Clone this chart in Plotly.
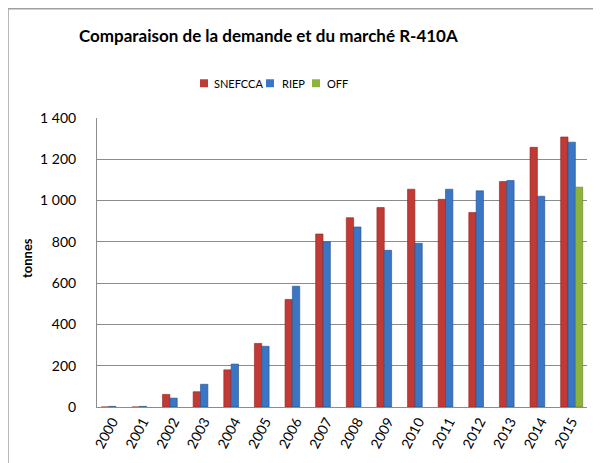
import plotly.graph_objects as go

years = [str(y) for y in range(2000, 2016)]
snefcca = [0, 0, 61, 74, 180, 308, 521, 838, 917, 966, 1055, 1006, 942, 1092, 1258, 1308]
riep = [3, 3, 43, 110, 208, 294, 585, 800, 872, 759, 793, 1055, 1047, 1097, 1021, 1283]
off = [None] * 15 + [1065]
ytick_vals = [0, 200, 400, 600, 800, 1000, 1200, 1400]
ytick_text = ["0", "200", "400", "600", "800", "1 000", "1 200", "1 400"]
names = ["SNEFCCA", "RIEP", "OFF"]
colors = ["#C23A36", "#3A76C4", "#8DB33A"]
lines = ["#8E2420", "#24508C", "#5E7E22"]

# the page body has an 8px margin: figure coordinates = page coordinates - 8
O = 8
W, H = 601 - O, 463 - O
L, R, T, B = 97 - O, 14, 118 - O, 62 - O
pw, ph = W - L - R, H - T - B

def px(x):
    return (x - O - L) / pw

def py(y):
    return (H - B - (y - O)) / ph

fig = go.Figure()
for name, vals, col, lc in zip(names, [snefcca, riep, off], colors, lines):
    fig.add_trace(go.Bar(x=years, y=vals, name=name, showlegend=False,
                         marker=dict(color=col, line=dict(color=lc, width=0.6))))

font_fam = "Lato, Liberation Sans, sans-serif"
fig.update_layout(
    width=W, height=H,
    margin=dict(l=L, r=R, t=T, b=B),
    paper_bgcolor="white", plot_bgcolor="white",
    barmode="group", bargap=0.28, bargroupgap=0.0,
    font=dict(family=font_fam, color="black"),
    showlegend=False,
)
fig.update_yaxes(range=[0, 1400], tickvals=ytick_vals, ticktext=ytick_text,
                 showgrid=True, gridcolor="#8C8C8C", gridwidth=1,
                 showline=True, linecolor="#8C8C8C", linewidth=1,
                 ticks="", tickfont=dict(size=14), ticklabelstandoff=17,
                 zeroline=False)
fig.update_xaxes(showline=True, linecolor="#8C8C8C", linewidth=1,
                 ticks="", tickangle=-62, tickfont=dict(size=14))

ann = [
    dict(text="<b>Comparaison de la demande et du marché R-410A</b>",
         x=px(268), y=py(35), xanchor="center", yanchor="middle",
         font=dict(size=17)),
    dict(text="<b>tonnes</b>", x=px(27), y=py(259), textangle=-90,
         xanchor="center", yanchor="middle", font=dict(size=13)),
]
# custom legend
leg_sq = [200, 266, 312]
leg_tx = [212, 280, 325]
for name, col, sx, tx in zip(names, colors, leg_sq, leg_tx):
    fig.add_shape(type="rect", xref="paper", yref="paper",
                  x0=px(sx), x1=px(sx + 8), y0=py(79), y1=py(87),
                  fillcolor=col, line=dict(width=0))
    ann.append(dict(text=name, x=px(tx), y=py(83), xanchor="left",
                    yanchor="middle", font=dict(size=11)))
for a in ann:
    a.update(xref="paper", yref="paper", showarrow=False)
fig.update_layout(annotations=ann)

fig.add_shape(type="line", xref="paper", yref="paper",
              x0=px(8), x1=px(640), y0=py(8), y1=py(8),
              line=dict(color="#A0A0A0", width=1.5))
fig.add_shape(type="line", xref="paper", yref="paper",
              x0=px(8), x1=px(8), y0=py(8), y1=py(500),
              line=dict(color="#A0A0A0", width=1.5))

fig.write_html("out.html")
